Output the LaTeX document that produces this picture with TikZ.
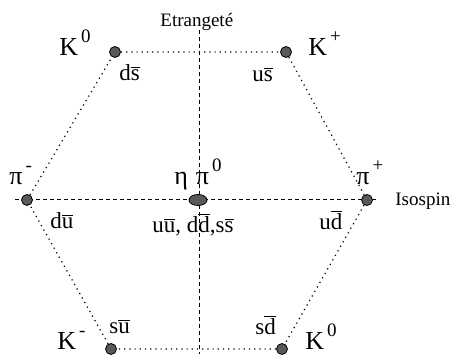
\documentclass[tikz,border=0pt]{standalone}
\usepackage{fontspec}
\setmainfont{Liberation Serif}
\usetikzlibrary{shapes.geometric}
\newcommand{\qbar}[1]{$\overline{\mbox{#1}}$}
\newcommand{\hiup}[1]{\raisebox{0.5em}{\fontsize{9.5}{10}\selectfont\kern1.5pt #1}}
\tikzset{
  meson/.style={circle, draw=black, fill=black!65, inner sep=0pt, minimum size=5.5pt},
  hexedge/.style={dotted, line width=0.6pt},
  axis/.style={line width=0.5pt, dash pattern=on 2pt off 1.5pt},
  particle/.style={font=\fontsize{13}{15}\selectfont, inner sep=0pt, anchor=base west},
  quark/.style={font=\fontsize{11.5}{13}\selectfont, inner sep=0pt, anchor=base west},
  axislabel/.style={font=\fontsize{9.5}{11}\selectfont, inner sep=0pt, anchor=base west}
}
\begin{document}
\begin{tikzpicture}[x=0.5pt,y=-0.5pt]
\useasboundingbox (0,0) rectangle (455,356);
% axes
\coordinate (top) at (199,30);
\coordinate (bottom) at (199,354);
\coordinate (left) at (15,200);
\coordinate (right) at (378,200);
\draw[axis] (top) -- (bottom);
\draw[axis] (left) -- (right);
\node[axislabel] (stra) at (160,27) {Etrangeté};
\node[axislabel] (iso) at (395,206) {Isospin};
% mesons
\node[meson] (k0) at (115,52) {};
\node[meson] (kplus) at (286,52) {};
\node[meson] (piminus) at (27,200) {};
\node[meson] (piplus) at (367,200) {};
\node[meson, ellipse, minimum width=9pt, minimum height=5.5pt] (eta) at (198,200) {};
\node[meson] (kminus) at (111,349) {};
\node[meson] (k0bar) at (282,349) {};
\draw[hexedge] (k0) -- (kplus) -- (piplus) -- (k0bar) -- (kminus) -- (piminus) -- (k0);
% names
\node[particle] (lk0) at (59,56) {K\hiup{0}};
\node[particle] (lkplus) at (308,56) {K\hiup{+}};
\node[particle] (lpiminus) at (9,185) {π\hiup{-}};
\node[particle] (leta) at (174,185) {η\kern4pt π\hiup{0}};
\node[particle] (lpiplus) at (356,185) {π\hiup{+}};
\node[particle] (lkminus) at (57,350) {K\hiup{-}};
\node[particle] (lk0bar) at (305,350) {K\hiup{0}};
% quark content
\node[quark] (qk0) at (119,81) {d\qbar{s}};
\node[quark] (qkplus) at (252,82) {u\qbar{s}};
\node[quark] (qpiminus) at (50,229) {d\qbar{u}};
\node[quark] (qeta) at (152,233) {u\qbar{u}, d\qbar{d},s\qbar{s}};
\node[quark] (qpiplus) at (319,230) {u\qbar{d}};
\node[quark] (qkminus) at (109,334) {s\qbar{u}};
\node[quark] (qk0bar) at (255,335) {s\qbar{d}};
\end{tikzpicture}
\end{document}
